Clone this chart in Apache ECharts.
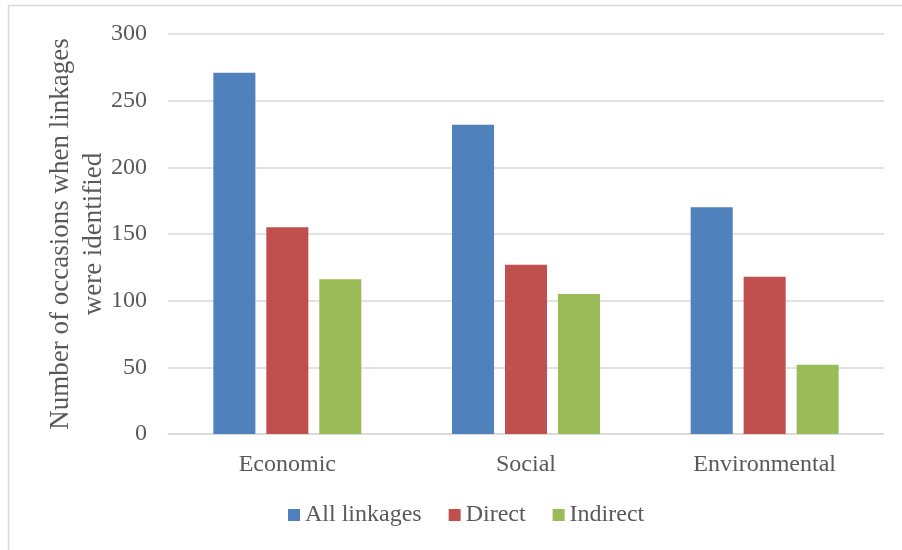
<!DOCTYPE html>
<html>
<head>
<meta charset="utf-8">
<script src="https://cdn.jsdelivr.net/npm/echarts@6/dist/echarts.min.js"></script>
<style>
  html, body { margin: 0; padding: 0; background: #fff; }
  #chart { width: 902px; height: 550px; }
</style>
</head>
<body>
<div id="chart"></div>
<script>
// 类别与数值
const categories = ['Economic', 'Social', 'Environmental'];
const allLinkages = [271, 232, 170];
const direct = [155, 127, 118];
const indirect = [116, 105, 52];
const seriesNames = ['All linkages', 'Direct', 'Indirect'];

const FONT = '"Liberation Serif", "Times New Roman", serif';
const TEXT = '#595959';

const chart = echarts.init(document.getElementById('chart'));

const option = {
    animation: false,
    backgroundColor: '#fff',
    color: ['#4F81BD', '#C0504D', '#9BBB59'],
    textStyle: { fontFamily: FONT },
    grid: { left: 168, right: 18, top: 34, bottom: 116 },
    legend: {
        data: seriesNames,
        bottom: 18,
        left: 283,
        itemWidth: 12,
        itemHeight: 12,
        itemGap: 27,
        icon: 'rect',
        textStyle: { color: TEXT, fontSize: 24, fontFamily: FONT }
    },
    xAxis: {
        type: 'category',
        data: categories,
        axisTick: { show: false },
        axisLine: { lineStyle: { color: '#d9d9d9', width: 1.5 } },
        axisLabel: { color: TEXT, fontSize: 24, fontFamily: FONT, margin: 19 }
    },
    yAxis: {
        type: 'value',
        min: 0, max: 300, interval: 50,
        name: 'Number of occasions when linkages\nwere identified',
        nameLocation: 'middle',
        nameRotate: 90,
        nameGap: 58,
        nameMoveOverlap: false,
        nameTextStyle: { color: TEXT, fontSize: 27, fontFamily: FONT, lineHeight: 33 },
        axisLine: { show: false },
        axisTick: { show: false },
        axisLabel: { color: TEXT, fontSize: 24, fontFamily: FONT, margin: 21 },
        splitLine: { lineStyle: { color: '#d9d9d9', width: 1.5 } }
    },
    series: [
        { name: seriesNames[0], type: 'bar', data: allLinkages, barGap: '26%', barCategoryGap: '38%' },
        { name: seriesNames[1], type: 'bar', data: direct },
        { name: seriesNames[2], type: 'bar', data: indirect }
    ],
    graphic: [{
        type: 'rect',
        shape: { x: 8.5, y: 5.5, width: 1000, height: 1000 },
        style: { fill: 'none', stroke: '#d9d9d9', lineWidth: 1.5 },
        silent: true,
        z: -1
    }]
};
chart.setOption(option);
</script>
</body>
</html>
